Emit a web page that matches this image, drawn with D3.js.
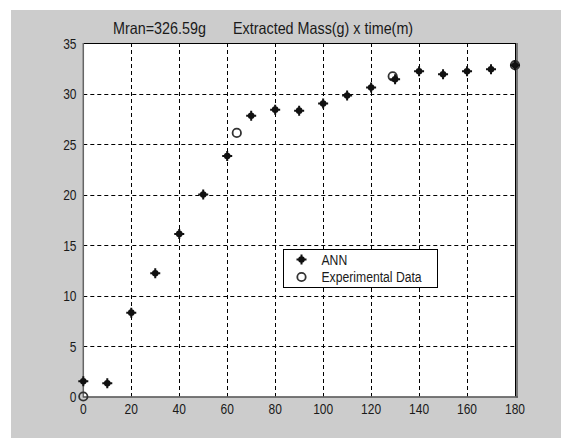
<!DOCTYPE html>
<html>
<head>
<meta charset="utf-8">
<script src="https://cdn.jsdelivr.net/npm/d3@7"></script>
<style>
  body { margin: 0; background: #fff; }
  svg text { font-family: "Liberation Sans", Arial, sans-serif; fill: #1a1a1a; }
</style>
</head>
<body>
<div class="canvas"></div>
<script>
// ANN prediction, every 10 min
const annTime = [0, 10, 20, 30, 40, 50, 60, 70, 80, 90, 100, 110, 120, 130, 140, 150, 160, 170, 180]
const annMass = [1.5, 1.3, 8.3, 12.2, 16.1, 20.0, 23.8, 27.8, 28.4, 28.3, 29.0, 29.8, 30.6, 31.4, 32.2, 31.9, 32.2, 32.4, 32.8]

// experimental points
const expTime = [0, 64, 129, 180]
const expMass = [0, 26.1, 31.7, 32.8]

const xTicks = [0, 20, 40, 60, 80, 100, 120, 140, 160, 180]
const yTicks = [0, 5, 10, 15, 20, 25, 30, 35]
const legendLabels = ['ANN', 'Experimental Data']

const W = 561, H = 438
const plot = {left: 83.3, right: 515, top: 43, bottom: 396.5}

const svg = d3.select('.canvas').append('svg')
  .attr('width', W)
  .attr('height', H)

// narrow text helper (the old matlab font is narrow)
const label = (parent, tx, ty, str, size, anchor, sx) => {
  parent.append('g')
    .attr('transform', `translate(${tx},${ty}) scale(${sx || 0.8},1)`)
    .append('text')
    .attr('text-anchor', anchor || 'start')
    .style('font-size', size + 'px')
    .text(str)
}

// gray figure background
svg.append('rect').attr('x', 11).attr('y', 10)
  .attr('width', W - 11).attr('height', H - 10)
  .attr('fill', '#cccccc')

const x = d3.scaleLinear().domain([0, 180]).range([plot.left, plot.right])
const y = d3.scaleLinear().domain([0, 35]).range([plot.bottom, plot.top])

svg.append('rect')
  .attr('x', plot.left).attr('y', plot.top)
  .attr('width', plot.right - plot.left).attr('height', plot.bottom - plot.top)
  .attr('fill', '#fff')

// dashed grid
const grid = svg.append('g')
grid.selectAll('.vgrid').data(xTicks.slice(1, -1)).enter()
  .append('line').attr('class', 'vgrid')
  .attr('x1', d => Math.round(x(d)) + 0.5).attr('x2', d => Math.round(x(d)) + 0.5)
  .attr('y1', plot.top).attr('y2', plot.bottom)
grid.selectAll('.hgrid').data(yTicks.slice(1, -1)).enter()
  .append('line').attr('class', 'hgrid')
  .attr('x1', plot.left).attr('x2', plot.right)
  .attr('y1', d => Math.round(y(d)) + 0.5).attr('y2', d => Math.round(y(d)) + 0.5)
grid.selectAll('line')
  .attr('stroke', '#000').attr('stroke-width', 1)
  .attr('stroke-dasharray', '4,3')

// axes box
svg.append('line').attr('x1', plot.left).attr('x2', plot.right + 1)
  .attr('y1', plot.top + 0.5).attr('y2', plot.top + 0.5).attr('stroke', '#000')
svg.append('line').attr('x1', plot.right + 0.5).attr('x2', plot.right + 0.5)
  .attr('y1', plot.top).attr('y2', plot.bottom).attr('stroke', '#000')
svg.append('line').attr('x1', plot.right + 2).attr('x2', plot.right + 2)
  .attr('y1', plot.top).attr('y2', plot.bottom + 1).attr('stroke', '#777').attr('stroke-width', 2)
svg.append('line').attr('x1', plot.left).attr('x2', plot.left)
  .attr('y1', plot.top).attr('y2', plot.bottom + 1).attr('stroke', '#666').attr('stroke-width', 1.5)
svg.append('line').attr('x1', plot.left).attr('x2', plot.right + 3)
  .attr('y1', plot.bottom + 0.5).attr('y2', plot.bottom + 0.5).attr('stroke', '#555').attr('stroke-width', 1.5)

// tick labels
xTicks.forEach(d => label(svg, x(d), 413.5, d, 15, 'middle'))
yTicks.forEach(d => label(svg, 76.5, y(d) + 5.5, d, 15, 'end'))

// title
label(svg, 113, 33.5, 'Mran=326.59g', 16.5, 'start', 0.87)
label(svg, 233, 33.5, 'Extracted Mass(g) x time(m)', 16.5, 'start', 0.87)

// markers
const annMarker = (sel) => {
  sel.append('circle').attr('r', 3.3).attr('fill', '#111')
  sel.append('path').attr('d', 'M-5,0H5M0,-5V5')
    .attr('stroke', '#111').attr('stroke-width', 2)
}
const expMarker = (sel) => {
  sel.append('circle').attr('r', 4.2)
    .attr('fill', 'none').attr('stroke', '#333').attr('stroke-width', 1.8)
}

svg.selectAll('.exp').data(expTime.map((t, i) => ({t, m: expMass[i]}))).enter()
  .append('g').attr('class', 'exp')
  .attr('transform', d => `translate(${x(d.t)},${y(d.m)})`)
  .call(expMarker)

svg.selectAll('.ann').data(annTime.map((t, i) => ({t, m: annMass[i]}))).enter()
  .append('g').attr('class', 'ann')
  .attr('transform', d => `translate(${x(d.t)},${y(d.m)})`)
  .call(annMarker)

// legend
const legend = svg.append('g').attr('transform', 'translate(283.5,249.5)')
legend.append('rect').attr('width', 154).attr('height', 38)
  .attr('fill', '#fff').attr('stroke', '#000')
legendLabels.forEach((lab, i) => {
  const row = legend.append('g').attr('transform', `translate(18,${10 + i * 17.5})`)
  if (i === 0) row.call(annMarker)
  else row.call(expMarker)
  label(row, 20, 5, lab, 14, 'start', 0.87)
})
</script>
</body>
</html>
